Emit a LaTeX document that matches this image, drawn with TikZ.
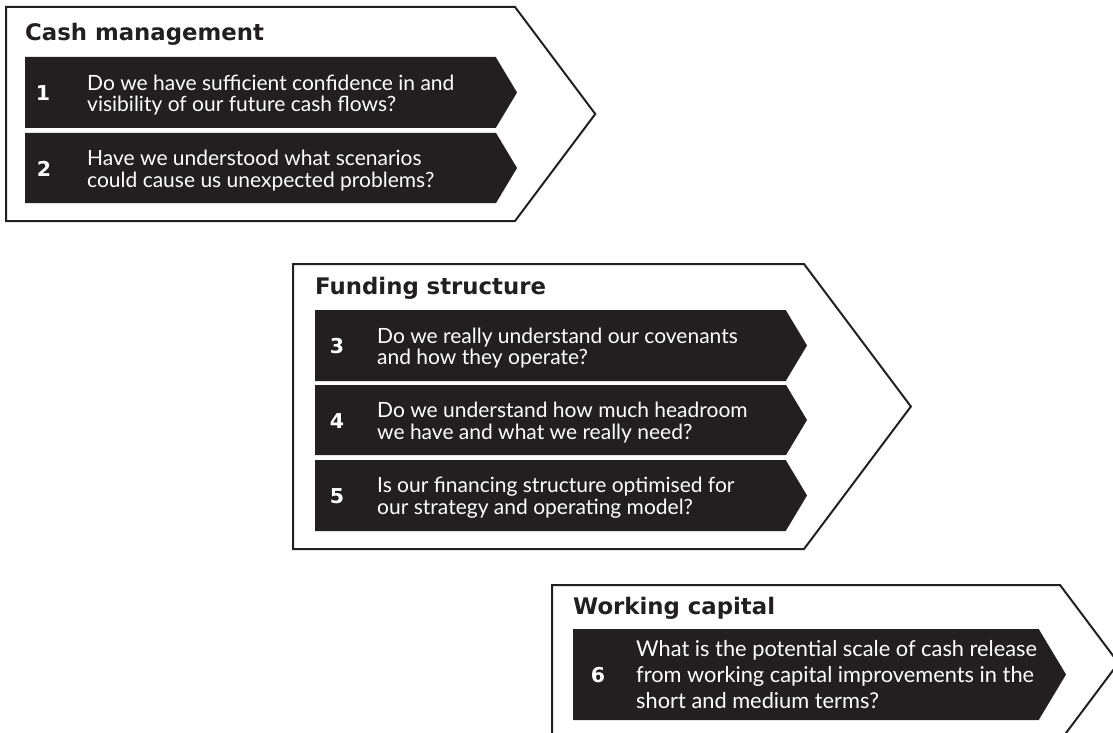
\documentclass[tikz,border=0pt]{standalone}
\usepackage{fontspec}
\setmainfont{Lato}
\newfontfamily\headfont{DejaVu Sans}[BoldFont=* Bold]
\definecolor{ink}{HTML}{231F20}

% outlined chevron: left, top, bottom, x of the upper/lower corners
\newcommand{\chevronframe}[4]{%
  \draw[frame] (#1,#2) -- (#4,#2) -- ({#4+0.75*(#3-#2)/2},{(#2+#3)/2})
    -- (#4,#3) -- (#1,#3) -- cycle;}
% filled question band: left, top, bottom, x of the arrow point
\newcommand{\questionband}[4]{%
  \fill[band] (#1,#2) -- ({#4-0.6*(#3-#2)/2},#2) -- (#4,{(#2+#3)/2})
    -- ({#4-0.6*(#3-#2)/2},#3) -- (#1,#3) -- cycle;}

\begin{document}
\begin{tikzpicture}[x=1pt,y=-1pt,
  frame/.style={draw=ink,line width=2pt,fill=white,line join=miter},
  band/.style={fill=ink},
  heading/.style={text=ink,anchor=base west,inner sep=0pt,
    font=\headfont\bfseries\fontsize{22.8}{26}\selectfont},
  qnum/.style={text=white,anchor=center,inner sep=0pt,
    font=\headfont\bfseries\fontsize{20.5}{22}\selectfont},
  qtext/.style={text=white,anchor=west,align=left,inner sep=0pt,
    font=\fontsize{21}{21.8}\selectfont},
  qlong/.style={qtext,font=\fontsize{21.8}{26}\selectfont}]
\useasboundingbox (0,0) rectangle (1113,733);
\clip (0,0) rectangle (1113,733);

% ---- Cash management ----
\chevronframe{6}{7}{221}{515}
\node[heading] (h1) at (25,41) {Cash management};
\questionband{25}{57}{128}{517}
\questionband{25}{133}{203}{517}
\node[qnum] (n1) at (43,93) {1};
\node[qtext] (t1) at (87,95) {Do we have sufficient confidence in and\\visibility of our future cash flows?};
\node[qnum] (n2) at (44,169) {2};
\node[qtext] (t2) at (87,170.5) {Have we understood what scenarios\\could cause us unexpected problems?};

% ---- Funding structure ----
\chevronframe{293}{264}{549}{804}
\node[heading] (h2) at (315,294) {Funding structure};
\questionband{315}{310}{381}{807}
\questionband{315}{385}{455}{807}
\questionband{315}{460}{531}{807}
\node[qnum] (n3) at (337,346.5) {3};
\node[qtext] (t3) at (377,348) {Do we really understand our covenants\\and how they operate?};
\node[qnum] (n4) at (337,421) {4};
\node[qtext] (t4) at (377,422.5) {Do we understand how much headroom\\we have and what we really need?};
\node[qnum] (n5) at (337,496.5) {5};
\node[qtext] (t5) at (377,498) {Is our financing structure optimised for\\our strategy and operating model?};

% ---- Working capital ----
\chevronframe{552}{585}{741}{1060}
\node[heading] (h3) at (573,614) {Working capital};
\questionband{573}{629}{720}{1066}
\node[qnum] (n6) at (598,675.5) {6};
\node[qlong] (t6) at (636,675) {What is the potential scale of cash release\\from working capital improvements in the\\short and medium terms?};
\end{tikzpicture}
\end{document}
